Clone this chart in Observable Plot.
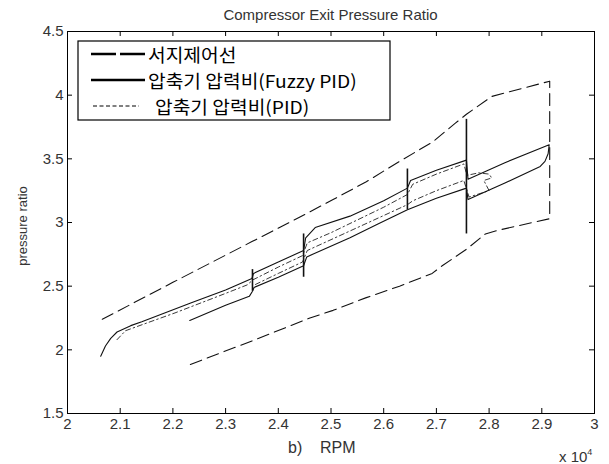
<!DOCTYPE html>
<html>
<head>
<meta charset="utf-8">
<script src="https://cdn.jsdelivr.net/npm/d3@7"></script>
<script src="https://cdn.jsdelivr.net/npm/@observablehq/plot@0.6"></script>
<style>
  html, body { margin: 0; padding: 0; background: #fff; }
  #wrap { position: relative; width: 609px; height: 464px; }
  .lgrow { position: absolute; height: 24px; line-height: 24px; font-size: 17.8px; white-space: nowrap;
           font-family: 'Noto Sans CJK KR', 'Noto Sans', sans-serif; color: #000;
           transform: scaleX(1.08); transform-origin: 0 50%; }
</style>
</head>
<body>
<div id="wrap"></div>
<script>
// ---- Data (RPM in units of 10^4) ----
const xTicks = [2, 2.1, 2.2, 2.3, 2.4, 2.5, 2.6, 2.7, 2.8, 2.9, 3];
const yTicks = [1.5, 2, 2.5, 3, 3.5, 4, 4.5];

// Surge control line (upper branch, right edge, lower branch)
const surgeRpm = [2.066, 2.20, 2.35, 2.442, 2.504, 2.567, 2.63, 2.692, 2.736, 2.757, 2.805, 2.915,
                  2.915, 2.818, 2.793, 2.757, 2.711, 2.692, 2.63, 2.567, 2.504, 2.46, 2.35, 2.23];
const surgePR  = [2.24, 2.53, 2.85, 3.045, 3.18, 3.32, 3.48, 3.63, 3.78, 3.85, 3.99, 4.11,
                  3.03, 2.94, 2.91, 2.79, 2.66, 2.60, 2.50, 2.41, 2.31, 2.25, 2.07, 1.88];

// Compressor pressure ratio, Fuzzy PID (up branch then back along lower branch)
const fuzzyRpm = [2.063, 2.072, 2.082, 2.094, 2.12, 2.141, 2.235, 2.30, 2.350, 2.353, 2.40, 2.448,
                  2.452, 2.47, 2.536, 2.60, 2.645, 2.651, 2.70, 2.757, 2.760, 2.83, 2.914,
                  2.912, 2.906, 2.897, 2.83, 2.760, 2.757, 2.70, 2.651, 2.645, 2.59, 2.536, 2.454,
                  2.448, 2.40, 2.354, 2.351, 2.345, 2.30, 2.232];
const fuzzyPR  = [1.95, 2.03, 2.09, 2.14, 2.19, 2.22, 2.37, 2.47, 2.56, 2.60, 2.69, 2.78,
                  2.88, 2.96, 3.05, 3.17, 3.27, 3.33, 3.41, 3.49, 3.34, 3.47, 3.61,
                  3.54, 3.48, 3.44, 3.31, 3.18, 3.27, 3.19, 3.11, 3.10, 2.99, 2.88, 2.73,
                  2.66, 2.57, 2.49, 2.46, 2.42, 2.35, 2.23];

// Compressor pressure ratio, PID
const pidRpm = [2.094, 2.11, 2.15, 2.204, 2.298, 2.341, 2.352, 2.40, 2.446, 2.455, 2.50, 2.60, 2.645,
                2.655, 2.70, 2.752, 2.758, 2.78, 2.80, 2.805, 2.79, 2.80, 2.762, 2.752, 2.70, 2.655,
                2.645, 2.55, 2.455, 2.446, 2.40, 2.355];
const pidPR  = [2.08, 2.15, 2.21, 2.29, 2.44, 2.51, 2.55, 2.65, 2.74, 2.84, 2.92, 3.12, 3.22,
                3.30, 3.38, 3.46, 3.37, 3.39, 3.38, 3.35, 3.33, 3.25, 3.20, 3.33, 3.25, 3.17,
                3.14, 2.96, 2.78, 2.69, 2.60, 2.51];

// Transient spikes at the RPM steps
const spikeRpm    = [2.351, 2.448, 2.645, 2.757];
const spikeTop    = [2.63, 2.91, 3.42, 3.81];
const spikeBottom = [2.46, 2.57, 3.10, 2.91];

const legendLabels = ["서지제어선", "압축기 압력비(Fuzzy PID)", "압축기 압력비(PID)"];

// ---- Tables ----
const surge = surgeRpm.map((x, i) => ({x, y: surgePR[i]}));
const fuzzy = fuzzyRpm.map((x, i) => ({x, y: fuzzyPR[i]}));
const pid = pidRpm.map((x, i) => ({x, y: pidPR[i]}));
const spikes = spikeRpm.map((x, i) => ({x, y1: spikeBottom[i], y2: spikeTop[i]}));

const W = 609, H = 464, mT = 31, mB = 51, mL = 67, mR = 15;
const fw = W - mL - mR, fh = H - mT - mB;
const fmt = d => String(+d.toFixed(1));

const chart = Plot.plot({
  width: W, height: H,
  marginTop: mT, marginBottom: mB, marginLeft: mL, marginRight: mR,
  style: {fontFamily: "'Liberation Sans', Arial, sans-serif", fontSize: "15px", color: "#333", background: "#fff"},
  x: {domain: [2, 3]},
  y: {domain: [1.5, 4.5]},
  marks: [
    Plot.axisX(xTicks, {anchor: "bottom", tickSize: 0, tickPadding: 5, tickFormat: fmt, label: null, fill: "#333"}),
    Plot.axisY(yTicks, {anchor: "left", tickSize: 0, tickPadding: 4, tickFormat: fmt, label: null, fill: "#333"}),
    // inward ticks on all four sides
    Plot.ruleX(xTicks, {insetTop: fh - 5, stroke: "#000"}),
    Plot.ruleX(xTicks, {insetBottom: fh - 5, stroke: "#000"}),
    Plot.ruleY(yTicks, {insetRight: fw - 5, stroke: "#000"}),
    Plot.ruleY(yTicks, {insetLeft: fw - 5, stroke: "#000"}),
    Plot.line(surge, {x: "x", y: "y", stroke: "#111", strokeWidth: 1.1, strokeDasharray: "12,6", curve: "linear"}),
    Plot.line(pid, {x: "x", y: "y", stroke: "#222", strokeWidth: 0.9, strokeDasharray: "5,3,1.5,3", curve: "linear"}),
    Plot.line(fuzzy, {x: "x", y: "y", stroke: "#111", strokeWidth: 1.1, curve: "linear"}),
    Plot.ruleX(spikes, {x: "x", y1: "y1", y2: "y2", stroke: "#111", strokeWidth: 1.6}),
    Plot.frame({stroke: "#000", strokeWidth: 1})
  ]
});
const wrap = document.getElementById("wrap");
wrap.appendChild(chart);

// ---- Title, axis labels ----
const svg = d3.select(chart);
const sans = "'Liberation Sans', Arial, sans-serif";
svg.append("text").attr("x", mL + fw / 2).attr("y", 20).attr("text-anchor", "middle")
  .attr("font-family", sans).attr("font-size", 15).attr("fill", "#333").text("Compressor Exit Pressure Ratio");
svg.append("text").attr("transform", `translate(27,226) rotate(-90)`).attr("text-anchor", "middle")
  .attr("font-family", sans).attr("font-size", 13).attr("fill", "#333").text("pressure ratio");
svg.append("text").attr("x", 288).attr("y", 453).attr("text-anchor", "start").attr("font-family", sans)
  .attr("font-size", 16).attr("fill", "#333").attr("xml:space", "preserve").text("b)    RPM");
const t = svg.append("text").attr("x", 559).attr("y", 462).attr("text-anchor", "start")
  .attr("font-family", sans).attr("font-size", 15).attr("fill", "#333");
t.append("tspan").text("x 10");
t.append("tspan").attr("dy", -7).attr("font-size", 9).text("4");

// ---- Legend: box and line samples in the SVG, labels as an HTML overlay ----
const lg = svg.append("g");
const bx = 78, by = 41, bw = 312, bh = 79;
lg.append("rect").attr("x", bx).attr("y", by).attr("width", bw).attr("height", bh)
  .attr("fill", "#fff").attr("stroke", "#000").attr("stroke-width", 1.2);
const rows = [54, 80, 106];
const dashes = ["25,4", null, "4,2.5"];
const widths = [2.4, 2.4, 1];
rows.forEach((ry, i) => {
  const l = lg.append("line").attr("x1", i === 2 ? 93 : 91).attr("x2", i === 2 ? 139 : 145).attr("y1", ry).attr("y2", ry)
    .attr("stroke", "#000").attr("stroke-width", widths[i]);
  if (dashes[i]) l.attr("stroke-dasharray", dashes[i]);
  const d = document.createElement("div");
  d.className = "lgrow";
  d.style.left = (i === 2 ? 155 : 148) + "px";
  d.style.top = (ry - 12) + "px";
  d.textContent = legendLabels[i];
  wrap.appendChild(d);
});
</script>
</body>
</html>
